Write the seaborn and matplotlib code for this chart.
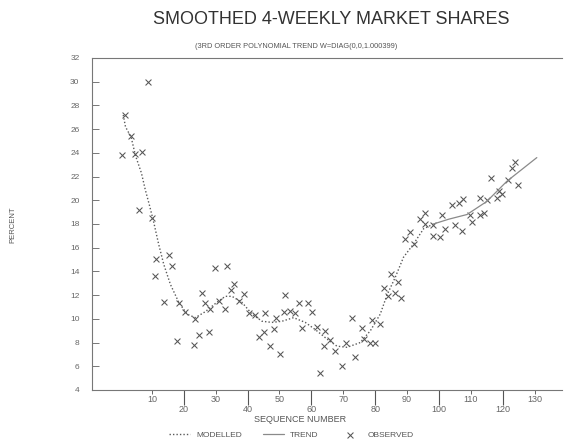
#Importing necessary libraries:
import matplotlib
matplotlib.use("Agg")
import matplotlib.pyplot as plt
import seaborn as sns
import pandas as pd

#Observed 4-weekly shares:
obs_seq = [0.7, 1.4, 3.4, 4.8, 5.9, 6.9, 8.8, 10.0, 11.1, 11.4, 13.7, 15.5, 16.3, 17.9, 18.6,
           20.5, 23.1, 23.6, 24.7, 25.7, 26.7, 27.8, 28.3, 29.7, 30.9, 33.0, 33.5, 34.9, 35.6,
           37.2, 38.8, 40.3, 42.4, 43.5, 45.0, 45.5, 47.1, 48.2, 49.0, 50.3, 51.3, 51.8, 53.4,
           55.0, 56.0, 57.1, 58.9, 60.2, 61.8, 62.8, 64.1, 64.4, 65.9, 67.5, 69.6, 70.9, 72.7,
           73.8, 75.9, 76.4, 78.5, 79.0, 80.0, 81.6, 82.9, 84.0, 85.0, 86.3, 87.1, 88.1, 89.4,
           90.8, 92.3, 94.1, 95.5, 95.7, 98.2, 98.3, 100.4, 100.9, 102.0, 104.1, 105.1, 106.2,
           107.2, 107.7, 109.7, 110.3, 112.9, 112.9, 114.0, 115.0, 116.4, 118.2, 118.7, 119.7,
           121.8, 122.9, 123.9, 124.9]
obs_pct = [23.8, 27.2, 25.4, 23.9, 19.2, 24.1, 30.0, 18.5, 13.6, 15.05, 11.4, 15.4, 14.5, 8.1, 11.3,
           10.6, 7.8, 10.0, 8.6, 12.2, 11.3, 8.9, 10.8, 14.3, 11.5, 10.8, 14.5, 12.4, 12.9,
           11.5, 12.1, 10.5, 10.3, 8.45, 8.9, 10.5, 7.7, 9.15, 10.1, 7.0, 10.6, 12.0, 10.7,
           10.5, 11.3, 9.2, 11.3, 10.6, 9.3, 5.4, 7.7, 9.0, 8.2, 7.3, 6.05, 8.0, 10.05,
           6.8, 9.2, 8.3, 8.0, 9.9, 7.95, 9.6, 12.6, 11.9, 13.8, 12.2, 13.1, 11.8, 16.7,
           17.3, 16.3, 18.4, 18.0, 18.9, 17.9, 17.0, 16.9, 18.8, 17.6, 19.6, 17.9, 19.8,
           17.4, 20.1, 18.8, 18.2, 18.8, 20.2, 18.9, 20.0, 21.9, 20.2, 20.8, 20.5,
           21.7, 22.7, 23.2, 21.3]

#Modelled (smoothed) curve:
mod_seq = [1.0, 1.7, 3.5, 4.8, 6.7, 7.9, 9.2, 10.6, 12.1, 13.7, 15.8, 18.4, 21.0, 23.6, 26.7,
           30.4, 33.0, 35.1, 38.2, 41.4, 44.5, 47.6, 50.8, 54.4, 58.1, 61.2, 64.9, 68.0, 71.2,
           75.3, 78.5, 81.6, 83.7, 86.3, 88.9, 92.0, 95.2, 98.3]
mod_pct = [27.2, 26.2, 25.3, 23.8, 22.3, 20.9, 19.6, 18.1, 16.3, 14.6, 12.9, 11.4, 10.4, 10.1, 10.6,
           11.4, 11.9, 11.9, 11.4, 10.4, 9.8, 9.7, 9.8, 10.1, 9.7, 9.1, 8.3, 7.7, 7.6,
           8.0, 9.0, 10.4, 12.0, 13.5, 15.2, 16.3, 17.6, 18.0]

#Polynomial trend (solid part at the right end):
trend_seq = [98.3, 103.0, 108.8, 115.0, 121.3, 130.7]
trend_pct = [18.0, 18.4, 18.8, 19.9, 21.6, 23.6]

#Axis ticks:
y_ticks = list(range(4, 33, 2))
x_major = [20, 40, 60, 80, 100, 120]
x_minor = [10, 30, 50, 70, 90, 110, 130]

obs_df = pd.DataFrame({'seq': obs_seq, 'pct': obs_pct})
mod_df = pd.DataFrame({'seq': mod_seq, 'pct': mod_pct})
trend_df = pd.DataFrame({'seq': trend_seq, 'pct': trend_pct})

sns.set_style('white')
plt.rcParams['font.family'] = ['Liberation Sans', 'DejaVu Sans']
grey = '#555555'

fig = plt.figure(figsize=(5.64, 4.42), dpi=100)
ax = fig.add_axes([92/564, 1-390/442, (562-92)/564, (390-58)/442])

sns.lineplot(data=mod_df, x='seq', y='pct', ax=ax, color='#5a5a5a', lw=1.0,
             linestyle=(0, (1, 1.5)), sort=False, estimator=None, label='MODELLED')
sns.lineplot(data=trend_df, x='seq', y='pct', ax=ax, color='#8a8a8a', lw=0.9,
             sort=False, estimator=None, label='TREND')
sns.scatterplot(data=obs_df, x='seq', y='pct', ax=ax, marker='x', s=18, color=grey,
                linewidth=0.75, label='OBSERVED')

ax.set_xlim(-8.8, 138.6)
ax.set_ylim(4, 32)
ax.set_xlabel('')
ax.set_ylabel('')

#Dotted frame, no right spine:
for side in ['left', 'bottom', 'top']:
    ax.spines[side].set_linestyle((0, (1, 1)))
    ax.spines[side].set_color('#777777')
    ax.spines[side].set_linewidth(0.8)
ax.spines['right'].set_visible(False)

ax.set_yticks(y_ticks)
ax.set_yticklabels([str(v) for v in y_ticks])
ax.tick_params(axis='y', direction='in', length=5, width=0.7, colors='#777777',
               labelsize=6, labelcolor='#666666', pad=9, left=True)

ax.set_xticks(x_major)
ax.set_xticklabels([str(v) for v in x_major])
ax.set_xticks(x_minor, minor=True)
ax.set_xticklabels([str(v) for v in x_minor], minor=True)
ax.tick_params(axis='x', which='major', direction='out', length=11, width=0.8,
               colors='#555555', labelsize=6.5, labelcolor='#666666', pad=0, bottom=True)
ax.tick_params(axis='x', which='minor', direction='out', length=3, width=0.7,
               colors='#666666', labelsize=6.5, labelcolor='#666666', pad=0.5, bottom=True)

ax.get_legend().remove()

#Titles and labels:
fig.text(331/564, 1-20/442, 'SMOOTHED 4-WEEKLY MARKET SHARES', ha='center', va='center',
         fontsize=13, color='#333333')
fig.text(296/564, 1-46/442, '(3RD ORDER POLYNOMIAL TREND W=DIAG(0,0,1.000399)',
         ha='center', va='center', fontsize=5.3, color='#555555')
fig.text(13/564, 1-225/442, 'PERCENT', rotation=90, ha='center', va='center',
         fontsize=5.5, color='#555555')
fig.text(300/564, 1-420/442, 'SEQUENCE NUMBER', ha='center', va='center',
         fontsize=6.5, color='#555555')

handles, labels = ax.get_legend_handles_labels()
fig.legend(handles, labels, loc='center', bbox_to_anchor=(291/564, 1-435/442), ncol=3,
           frameon=False, fontsize=6, labelcolor='#555555', handlelength=2.5,
           columnspacing=2.5)

fig.savefig('out.png', dpi=100)
